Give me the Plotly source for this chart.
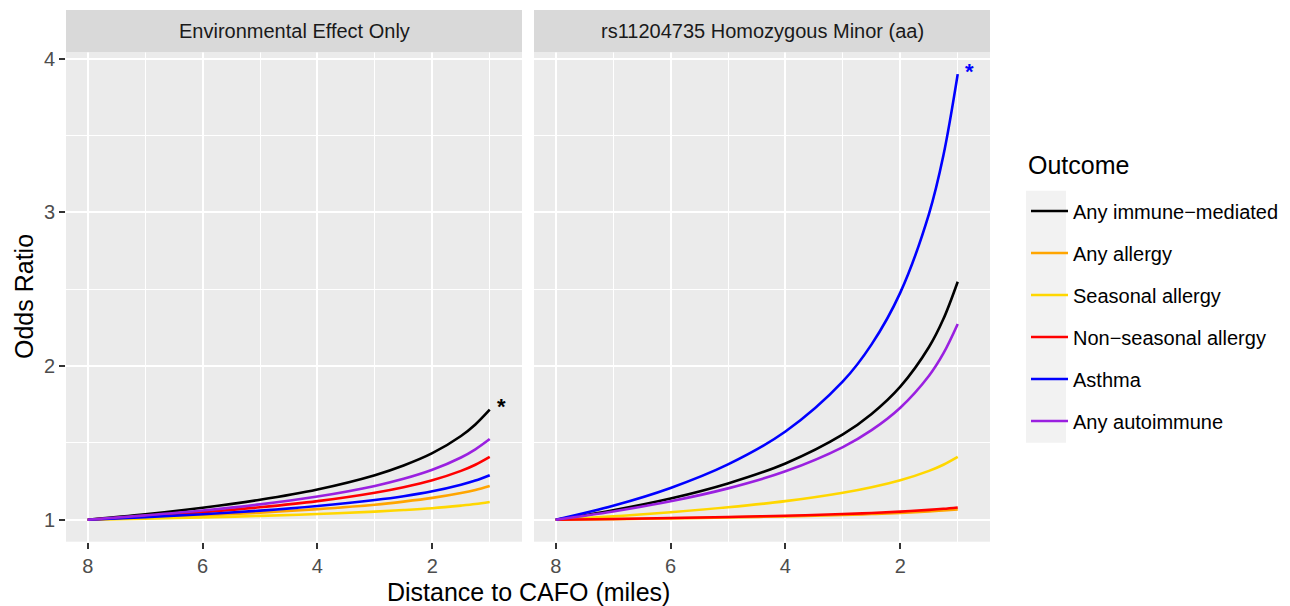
import plotly.graph_objects as go

# ---- data ----
distance = [8, 7, 6, 5, 4, 3, 2.5, 2, 1.5, 1.25, 1]

outcomes = ["Any immune\u2212mediated", "Any allergy", "Seasonal allergy",
            "Non\u2212seasonal allergy", "Asthma", "Any autoimmune"]
colors = ["#000000", "#FFA500", "#FFD700", "#FF0000", "#0000FF", "#9A20E0"]

panels = ["Environmental Effect Only", "rs11204735 Homozygous Minor (aa)"]

env_any_immune = [1, 1.035, 1.078, 1.130, 1.197, 1.290, 1.353, 1.433, 1.545, 1.620, 1.716]
env_any_allergy = [1, 1.013, 1.028, 1.046, 1.069, 1.098, 1.118, 1.142, 1.174, 1.194, 1.220]
env_seasonal = [1, 1.007, 1.015, 1.025, 1.037, 1.053, 1.063, 1.075, 1.092, 1.102, 1.115]
env_nonseasonal = [1, 1.022, 1.049, 1.081, 1.121, 1.176, 1.212, 1.257, 1.318, 1.358, 1.409]
env_asthma = [1, 1.017, 1.036, 1.059, 1.089, 1.128, 1.153, 1.185, 1.228, 1.255, 1.290]
env_autoimmune = [1, 1.028, 1.060, 1.100, 1.151, 1.220, 1.266, 1.325, 1.405, 1.458, 1.525]

aa_any_immune = [1, 1.062, 1.138, 1.236, 1.366, 1.555, 1.688, 1.866, 2.124, 2.306, 2.549]
aa_any_allergy = [1, 1.004, 1.009, 1.015, 1.022, 1.031, 1.037, 1.044, 1.054, 1.060, 1.067]
aa_seasonal = [1, 1.022, 1.049, 1.081, 1.121, 1.176, 1.212, 1.257, 1.318, 1.358, 1.409]
aa_nonseasonal = [1, 1.005, 1.011, 1.018, 1.026, 1.037, 1.044, 1.053, 1.064, 1.071, 1.080]
aa_asthma = [1, 1.091, 1.207, 1.360, 1.574, 1.900, 2.141, 2.478, 2.991, 3.370, 3.900]
aa_autoimmune = [1, 1.054, 1.120, 1.204, 1.315, 1.473, 1.583, 1.729, 1.937, 2.082, 2.274]

env_series = [env_any_immune, env_any_allergy, env_seasonal, env_nonseasonal, env_asthma, env_autoimmune]
aa_series = [aa_any_immune, aa_any_allergy, aa_seasonal, aa_nonseasonal, aa_asthma, aa_autoimmune]

# significance markers
star_x = [0.8, 0.8]
star_y = [1.716, 3.9]
star_colors = ["#000000", "#0000FF"]

x_major = [8, 6, 4, 2]
x_minor = [7, 5, 3, 1]
y_major = [1, 2, 3, 4]
y_minor = [1.5, 2.5, 3.5]

FONT = "Liberation Sans, Arial, sans-serif"
W, H = 1290, 606

fig = go.Figure()
for i, (name, col) in enumerate(zip(outcomes, colors)):
    fig.add_trace(go.Scatter(x=distance, y=env_series[i], mode="lines", name=name,
                             line=dict(color=col, width=2.6, shape="spline"),
                             legendgroup=name, showlegend=True, xaxis="x", yaxis="y"))
for i, (name, col) in enumerate(zip(outcomes, colors)):
    fig.add_trace(go.Scatter(x=distance, y=aa_series[i], mode="lines", name=name,
                             line=dict(color=col, width=2.6, shape="spline"),
                             legendgroup=name, showlegend=False, xaxis="x2", yaxis="y2"))

ydom = [(H - 541.7) / H, (H - 52.3) / H]
xrange = [8.378, 0.438]
yrange = [0.857, 4.042]

common_x = dict(range=xrange, showgrid=True, gridcolor="white", gridwidth=2,
                tickvals=x_major, ticktext=[str(v) for v in x_major],
                ticks="outside", ticklen=6, tickwidth=2, tickcolor="#333333",
                tickfont=dict(family=FONT, size=20, color="#4D4D4D"),
                minor=dict(tickvals=x_minor, showgrid=True, gridcolor="white", gridwidth=1, ticks=""),
                zeroline=False, showline=False, fixedrange=True, automargin=False)
common_y = dict(range=yrange, domain=ydom, showgrid=True, gridcolor="white", gridwidth=2,
                tickvals=y_major,
                minor=dict(tickvals=y_minor, showgrid=True, gridcolor="white", gridwidth=1, ticks=""),
                zeroline=False, showline=False, fixedrange=True, automargin=False)

fig.update_layout(
    width=W, height=H, margin=dict(l=0, r=0, t=0, b=0, pad=0, autoexpand=False),
    paper_bgcolor="white", plot_bgcolor="#EBEBEB",
    font=dict(family=FONT, color="#000000"),
    xaxis=dict(domain=[66 / W, 522 / W], anchor="y", **common_x),
    xaxis2=dict(domain=[534 / W, 990 / W], anchor="y2", **common_x),
    yaxis=dict(anchor="x", ticks="outside", ticklen=6, tickwidth=2, tickcolor="#333333",
               tickfont=dict(family=FONT, size=20, color="#4D4D4D"), **common_y),
    yaxis2=dict(anchor="x2", showticklabels=False, ticks="", **common_y),
    legend=dict(x=1026 / W, y=(H - 191.5) / H, xanchor="left", yanchor="top",
                bgcolor="rgba(0,0,0,0)", font=dict(family=FONT, size=20, color="#000000"),
                tracegroupgap=13, itemwidth=37),
    showlegend=True,
)

shapes = []
annotations = []
for k, (xr, title) in enumerate(zip(["x", "x2"], panels)):
    shapes.append(dict(type="rect", xref=f"{xr} domain", yref="paper", x0=0, x1=1,
                       y0=(H - 52.3) / H, y1=(H - 10) / H, fillcolor="#D9D9D9",
                       line=dict(width=0), layer="above"))
    annotations.append(dict(text=title, xref=f"{xr} domain", yref="paper", x=0.5,
                            y=(H - 31) / H, showarrow=False, xanchor="center", yanchor="middle",
                            font=dict(family=FONT, size=20, color="#1A1A1A")))

# legend key background
shapes.append(dict(type="rect", xref="paper", yref="paper", x0=1026 / W, x1=1066 / W,
                   y0=(H - 442.7) / H, y1=(H - 190.7) / H, fillcolor="#F2F2F2",
                   line=dict(width=0), layer="below"))

# legend title
annotations.append(dict(text="Outcome", xref="paper", yref="paper", x=1026 / W,
                        y=(H - 165) / H, showarrow=False, xanchor="left", yanchor="middle",
                        font=dict(family=FONT, size=25, color="#000000")))

for xr, yr, sx, sy, sc in zip(["x", "x2"], ["y", "y2"], star_x, star_y, star_colors):
    annotations.append(dict(text="<b>*</b>", xref=xr, yref=yr, x=sx, y=sy, showarrow=False,
                            xanchor="center", yanchor="middle", yshift=3,
                            font=dict(family=FONT, size=22, color=sc)))

annotations.append(dict(text="Distance to CAFO (miles)", xref="paper", yref="paper",
                        x=528 / W, y=(H - 592) / H, showarrow=False, xanchor="center",
                        yanchor="middle", font=dict(family=FONT, size=25, color="#000000")))
annotations.append(dict(text="Odds Ratio", xref="paper", yref="paper", textangle=-90,
                        x=24 / W, y=(H - 297) / H, showarrow=False, xanchor="center",
                        yanchor="middle", font=dict(family=FONT, size=25, color="#000000")))

fig.update_layout(shapes=shapes, annotations=annotations)
fig.write_html("out.html")
